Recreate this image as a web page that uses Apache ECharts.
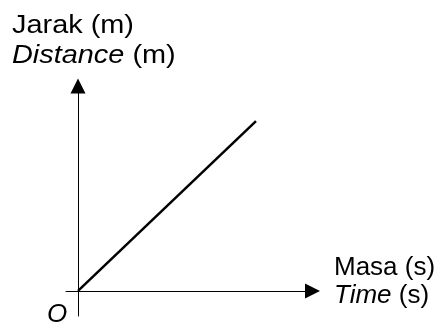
<!DOCTYPE html>
<html>
<head>
<meta charset="utf-8">
<script src="https://cdn.jsdelivr.net/npm/echarts@6/dist/echarts.min.js"></script>
<style>
  html, body { margin: 0; padding: 0; background: #fff; }
  #main { width: 446px; height: 324px; }
</style>
</head>
<body>
<div id="main"></div>
<script>
// data: a straight line through the origin, no ticks on either axis
const time = [0, 8]
const distance = [0, 8]
const xRange = [-0.54, 10.54]
const yRange = [-1.18, 9.65]

const yLabel = ["Jarak (m)", "Distance (m)"]
const xLabel = ["Masa (s)", "Time (s)"]
const originLabel = "O"

const font = "Liberation Sans, Arial, sans-serif"

const chart = echarts.init(document.getElementById("main"))

const axisCommon = {
  type: "value",
  splitLine: { show: false },
  axisTick: { show: false },
  axisLabel: { show: false },
  axisLine: {
    show: true,
    onZero: true,
    symbol: ["none", "triangle"],
    symbolSize: [15, 15],
    lineStyle: { color: "#000", width: 1 }
  }
}

chart.setOption({
  animation: false,
  grid: { left: 66, top: 86, right: 133.5, bottom: 8 },
  xAxis: Object.assign({}, axisCommon, { min: xRange[0], max: xRange[1] }),
  yAxis: Object.assign({}, axisCommon, { min: yRange[0], max: yRange[1] }),
  series: [{
    type: "line",
    data: time.map((t, i) => [t, distance[i]]),
    showSymbol: false,
    lineStyle: { color: "#000", width: 2.5 }
  }],
  graphic: [
    {
      // the y label in the picture is a little wider than the x label
      type: "text", left: 12, top: 11.5, scaleX: 1.09,
      style: {
        text: yLabel[0] + "\n{i|" + yLabel[1].split(" ")[0] + "} (m)",
        font: "26.5px " + font, fill: "#000", lineHeight: 29.3,
        rich: { i: { fontStyle: "italic", fontSize: 26.5, fontFamily: font, lineHeight: 29.3 } }
      }
    },
    {
      type: "text", left: 334, top: 253.5,
      style: {
        text: xLabel[0] + "\n{i|" + xLabel[1].split(" ")[0] + "} (s)",
        font: "26px " + font, fill: "#000", lineHeight: 28,
        rich: { i: { fontStyle: "italic", fontSize: 26, fontFamily: font, lineHeight: 28 } }
      }
    },
    {
      type: "text", left: 47, top: 301.5,
      style: { text: originLabel, font: "italic 26px " + font, fill: "#000" }
    }
  ]
})
window.onresize = () => chart.resize()
</script>
</body>
</html>
